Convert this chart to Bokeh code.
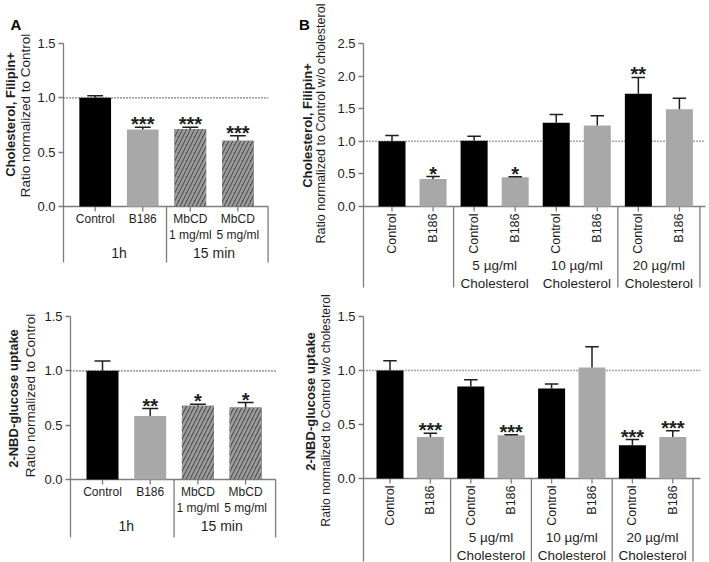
import numpy as np
from bokeh.plotting import figure
from bokeh.layouts import row, column
from bokeh.models import Range1d, FixedTicker, NumeralTickFormatter
from bokeh.core.properties import value
from bokeh.embed import file_html
from bokeh.resources import INLINE

FONT = "Liberation Sans"
AXIS_GREY = "#7d7d7d"
INK = "#1e1e1e"

# ---------------- data: panel A ----------------
a_categories = ["Control", "B186", "MbCD\n1 mg/ml", "MbCD\n5 mg/ml"]
a_styles = ["black", "grey", "hatch", "hatch"]
a_groups = ["1h", "15 min"]
a_group_index = [0, 0, 1, 1]
a_ticks = [0.0, 0.5, 1.0, 1.5]

a_chol_mean = [1.00, 0.708, 0.714, 0.606]
a_chol_upper = [1.02, 0.729, 0.729, 0.652]
a_chol_sig = ["", "***", "***", "***"]

a_glu_mean = [1.00, 0.585, 0.678, 0.662]
a_glu_upper = [1.09, 0.653, 0.693, 0.708]
a_glu_sig = ["", "**", "*", "*"]

# ---------------- data: panel B ----------------
b_categories = ["Control", "B186", "Control", "B186", "Control", "B186", "Control", "B186"]
b_styles = ["black", "grey", "black", "grey", "black", "grey", "black", "grey"]
b_groups = ["", "5 µg/ml\nCholesterol", "10 µg/ml\nCholesterol", "20 µg/ml\nCholesterol"]
b_group_index = [0, 0, 1, 1, 2, 2, 3, 3]
b_chol_ticks = [0.0, 0.5, 1.0, 1.5, 2.0, 2.5]
b_glu_ticks = [0.0, 0.5, 1.0, 1.5]

b_chol_mean = [1.00, 0.42, 1.01, 0.447, 1.283, 1.242, 1.73, 1.49]
b_chol_upper = [1.088, 0.46, 1.078, 0.457, 1.41, 1.39, 1.98, 1.66]
b_chol_sig = ["", "*", "", "*", "", "", "**", ""]

b_glu_mean = [1.00, 0.385, 0.852, 0.40, 0.834, 1.028, 0.308, 0.385]
b_glu_upper = [1.09, 0.42, 0.914, 0.406, 0.874, 1.22, 0.36, 0.443]
b_glu_sig = ["", "***", "", "***", "", "", "***", "***"]

reference_level = 1.0

STYLE = {
    "black": dict(fill_color="#000000"),
    "grey": dict(fill_color="#a8a8a8"),
    "hatch": dict(fill_color="#4a4a4a", hatch_pattern="/", hatch_color="#9c9c9c",
                  hatch_scale=8, hatch_weight=2.6),
}


def label_strip(W, H, bold_text, bold_xy, bold_size, norm_text, norm_xy, norm_size,
                letter=None, letter_xy=(0, 0)):
    """Narrow figure holding the two-line y-axis title (and panel letter)."""
    p = figure(width=W, height=H, x_range=Range1d(0, W), y_range=Range1d(0, H),
               x_axis_type=None, y_axis_type=None, toolbar_location=None,
               output_backend="svg", min_border=0, frame_align=False)
    p.outline_line_color = None
    p.grid.visible = False
    p.text(x=[bold_xy[0]], y=[H - bold_xy[1]], text=[bold_text], angle=np.pi / 2,
           text_align="center", text_baseline="middle", text_font=value(FONT),
           text_font_size=bold_size, text_font_style="bold", text_color=INK)
    p.text(x=[norm_xy[0]], y=[H - norm_xy[1]], text=[norm_text], angle=np.pi / 2,
           text_align="center", text_baseline="middle", text_font=value(FONT),
           text_font_size=norm_size, text_color=INK)
    if letter is not None:
        p.text(x=[letter_xy[0]], y=[H - letter_xy[1]], text=[letter], text_align="left",
               text_baseline="alphabetic", text_font=value(FONT), text_font_size="15px",
               text_font_style="bold", text_color="#000000")
    return p


def make_panel(cats, styles, groups, gidx, mean, upper, sig, ticks, ymax,
               W, H, fl, ft, fw, y0, sep_px, xpp, off, bar_px, end_px,
               rotated, end_sep_axis, skip_bounds=()):
    ypp = (y0 - ft) / ymax
    ystart = -(H - y0) / ypp
    ysep = -sep_px / ypp
    xstart = -off / xpp
    xend = xstart + fw / xpp
    n = len(cats)
    xs = np.arange(n, dtype=float)
    axis_end = xs[-1] + end_px / xpp
    bw = bar_px / xpp

    p = figure(width=W, height=H, x_range=Range1d(xstart, xend), y_range=Range1d(ystart, ymax),
               x_axis_type=None, toolbar_location=None, output_backend="svg",
               min_border_left=fl, min_border_top=ft, min_border_right=W - fl - fw,
               min_border_bottom=0, frame_align=False)
    p.outline_line_color = None
    p.grid.visible = False
    p.background_fill_color = "white"
    p.border_fill_color = "white"

    ax = p.yaxis[0]
    ax.ticker = FixedTicker(ticks=ticks)
    ax.formatter = NumeralTickFormatter(format="0.0")
    ax.bounds = (ysep, ymax)
    ax.axis_line_color = AXIS_GREY
    ax.axis_line_width = 1.3
    ax.major_tick_line_color = AXIS_GREY
    ax.major_tick_line_width = 1.3
    ax.major_tick_in = 0
    ax.major_tick_out = 5
    ax.minor_tick_line_color = None
    ax.major_label_text_font = FONT
    ax.major_label_text_font_size = "13px"
    ax.major_label_text_color = INK
    ax.major_label_standoff = 3

    # x tick marks
    p.segment(x0=xs, x1=xs, y0=np.zeros(n), y1=np.full(n, -5 / ypp),
              line_color=AXIS_GREY, line_width=1.3)
    # group separators
    bounds = [i - 0.5 for i in range(1, n) if gidx[i] != gidx[i - 1] and (i - 0.5) not in skip_bounds]
    bounds.append(axis_end if end_sep_axis else n - 0.5)
    bounds = np.array(bounds)
    p.segment(x0=bounds, x1=bounds, y0=np.zeros(len(bounds)), y1=np.full(len(bounds), ysep),
              line_color=AXIS_GREY, line_width=1.3)
    # baseline
    p.segment(x0=[xstart], x1=[axis_end], y0=[0], y1=[0], line_color=AXIS_GREY, line_width=1.3)
    # dotted reference
    p.segment(x0=[xstart], x1=[axis_end], y0=[reference_level], y1=[reference_level],
              line_color="#4a4a4a", line_width=1.6, line_dash="1 2")

    # bars
    for st in ["black", "grey", "hatch"]:
        idx = [i for i in range(n) if styles[i] == st]
        if not idx:
            continue
        p.vbar(x=xs[idx], top=[mean[i] for i in idx], bottom=0, width=bw,
               line_color=None, **STYLE[st])

    # error bars (upper only)
    mean_a = np.array(mean)
    up_a = np.array(upper)
    p.segment(x0=xs, x1=xs, y0=mean_a, y1=up_a, line_color=INK, line_width=1.5)
    p.segment(x0=xs - bw / 4, x1=xs + bw / 4, y0=up_a, y1=up_a, line_color=INK, line_width=1.5)

    # significance stars
    p.text(x=xs, y=up_a, text=sig, text_align="center", text_baseline="alphabetic",
           y_offset=-3, text_font=value(FONT), text_font_size="20px", text_color=INK,
           text_font_style="bold")

    # category labels
    if rotated:
        p.text(x=xs, y=np.full(n, -7 / ypp), text=cats, angle=np.pi / 2, text_align="right",
               text_baseline="middle", text_font=value(FONT), text_font_size="12.5px",
               text_color=INK)
        gy_off, gsize, glh = 51, "13.5px", 1.22
    else:
        p.text(x=xs, y=np.zeros(n), text=cats, text_align="center", text_baseline="top",
               y_offset=5, text_font=value(FONT), text_font_size="12px", text_color=INK,
               text_line_height=1.2)
        gy_off, gsize, glh = 38, "14px", 1.2

    gx = [float(np.mean([xs[i] for i in range(n) if gidx[i] == g])) for g in range(len(groups))]
    p.text(x=gx, y=np.zeros(len(groups)), text=groups, text_align="center", text_baseline="top",
           y_offset=gy_off, text_font=value(FONT), text_font_size=gsize, text_color=INK,
           text_line_height=glh)
    return p


# ---- top row (height 291) ----
lA1 = label_strip(34, 291, "Cholesterol, Filipin+", (10, 114), "13px",
                  "Ratio normalized to Control", (24.5, 115), "13.5px",
                  letter="A", letter_xy=(10, 24))
pA1 = make_panel(a_categories, a_styles, a_groups, a_group_index, a_chol_mean, a_chol_upper,
                 a_chol_sig, a_ticks, 1.5,
                 W=264, H=291, fl=27, ft=43, fw=215, y0=206, sep_px=56, xpp=48, off=32,
                 bar_px=32, end_px=30.5, rotated=False, end_sep_axis=True)

lB1 = label_strip(32, 291, "Cholesterol, Filipin+", (9, 125), "13px",
                  "Ratio normalized to Control w/o cholesterol", (22, 123), "12.6px",
                  letter="B", letter_xy=(0.5, 24))
pB1 = make_panel(b_categories, b_styles, b_groups, b_group_index, b_chol_mean, b_chol_upper,
                 b_chol_sig, b_chol_ticks, 2.5,
                 W=379, H=291, fl=33, ft=43, fw=346, y0=206, sep_px=81, xpp=41.06, off=28.5,
                 bar_px=27, end_px=26, rotated=True, end_sep_axis=False, skip_bounds=(3.5,))

# ---- bottom row (height 271) ----
lA2 = label_strip(39, 271, "2-NBD-glucose uptake", (13, 107), "13px",
                  "Ratio normalized to Control", (30, 104), "13.5px")
pA2 = make_panel(a_categories, a_styles, a_groups, a_group_index, a_glu_mean, a_glu_upper,
                 a_glu_sig, a_ticks, 1.5,
                 W=259, H=271, fl=31, ft=25, fw=210, y0=188, sep_px=58, xpp=47.7, off=32,
                 bar_px=32, end_px=30, rotated=False, end_sep_axis=True)

lB2 = label_strip(35, 271, "2-NBD-glucose uptake", (12, 110), "13px",
                  "Ratio normalized to Control w/o cholesterol", (27, 119), "12.2px")
pB2 = make_panel(b_categories, b_styles, b_groups, b_group_index, b_glu_mean, b_glu_upper,
                 b_glu_sig, b_glu_ticks, 1.5,
                 W=376, H=271, fl=30, ft=25, fw=346, y0=187, sep_px=83, xpp=40.4, off=26.5,
                 bar_px=27, end_px=27.5, rotated=True, end_sep_axis=False)

layout = column(row(lA1, pA1, lB1, pB1), row(lA2, pA2, lB2, pB2))
open("out.html", "w").write(file_html(layout, INLINE))
